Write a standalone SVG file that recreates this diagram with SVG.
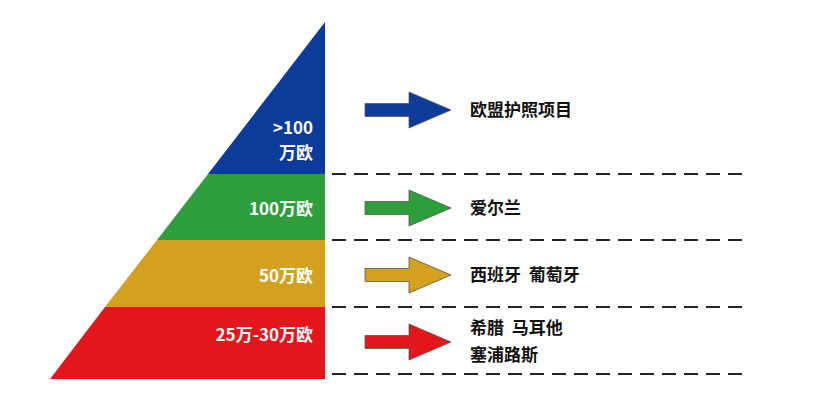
<svg xmlns="http://www.w3.org/2000/svg" width="840" height="402" viewBox="0 0 840 402">
<style>
.w{fill:#fff;font-family:"Noto Sans CJK SC","Noto Sans",sans-serif;font-weight:bold;font-size:17px;text-anchor:end}
.k{fill:#111;font-family:"Noto Sans CJK SC","Noto Sans",sans-serif;font-weight:bold;font-size:17px}
.d{stroke:#222;stroke-width:2;stroke-dasharray:14 8;fill:none}
.a{stroke:#555;stroke-width:0.8}
</style>
<defs><path id="ar" d="M0,-6.5 H44 V-18 L86,0 L44,18 V6.5 H0 Z"/></defs>
<rect width="840" height="402" fill="#fff"/>
<g id="tier1"><polygon points="325,22 325,174 208,174" fill="#0c3b9c"/><text class="w" x="313" y="134">&gt;100</text><text class="w" x="313" y="159">万欧</text></g>
<g id="tier2"><polygon points="208,174 325,174 325,240 157,240" fill="#2f9e3c"/><text class="w" x="313" y="215">100万欧</text></g>
<g id="tier3"><polygon points="157,240 325,240 325,307 105,307" fill="#d4a11e"/><text class="w" x="313" y="282">50万欧</text></g>
<g id="tier4"><polygon points="105,307 325,307 325,379 50,379" fill="#e5161b"/><text class="w" x="313" y="341">25万-30万欧</text></g>
<g id="connectors">
<path class="d" d="M332,174H750M332,240H750M332,307H750M332,374H750"/>
<use href="#ar" x="365" y="110" fill="#0c3b9c" class="a"/>
<use href="#ar" x="365" y="208" fill="#2f9e3c" class="a"/>
<use href="#ar" x="365" y="275" fill="#d4a11e" class="a"/>
<use href="#ar" x="365" y="342" fill="#e5161b" class="a"/>
</g>
<g id="labels">
<text class="k" x="470" y="116">欧盟护照项目</text>
<text class="k" x="470" y="214">爱尔兰</text>
<text class="k" x="470" y="281" xml:space="preserve">西班牙  葡萄牙</text>
<text class="k" x="470" y="334" xml:space="preserve">希腊  马耳他</text>
<text class="k" x="470" y="361">塞浦路斯</text>
</g>
</svg>
